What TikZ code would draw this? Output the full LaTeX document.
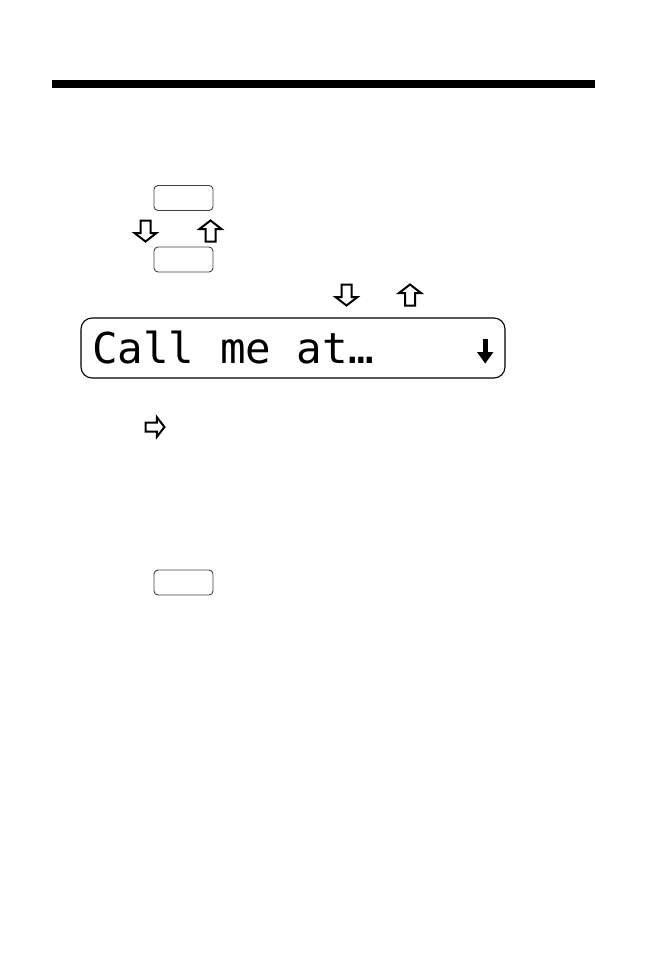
\documentclass[tikz,border=0pt]{standalone}
\usepackage{fontspec}
\usepackage{tikz}
\usepackage{xcolor}
\newfontfamily\lcdfont{DejaVu Sans Mono}

\tikzset{
  keybox/.style={draw=black!75,line width=0.9pt,rounded corners=4pt,minimum width=59pt,minimum height=25pt,inner sep=0pt},
  hollowarrow/.pic={\draw[line width=2pt,line join=miter] (-5,-10.5)--(5,-10.5)--(5,2)--(11,2)--(0,10.5)--(-11,2)--(-5,2)--cycle;}
}

\begin{document}
\begin{tikzpicture}[x=1pt,y=-1pt]
  \useasboundingbox (0,0) rectangle (645,954);
  \fill (52,80) rectangle (595,88);
  % keys
  \node[keybox] (keyA) at (183.5,198) {};
  \node[keybox] (keyB) at (183.5,259.5) {};
  \node[keybox] (keyC) at (183.5,582.5) {};
  % arrows
  \pic at (145.5,231) {hollowarrow};
  \pic[rotate=180] at (210.5,231) {hollowarrow};
  \pic at (346.5,295) {hollowarrow};
  \pic[rotate=180] at (410,295) {hollowarrow};
  \pic[rotate=90,scale=0.9] at (155,427) {hollowarrow};
  % display
  \node[draw,line width=1.1pt,rounded corners=11pt,minimum width=424pt,minimum height=60pt] (lcd) at (293,348) {};
  \node[anchor=base west,inner sep=0pt,font=\lcdfont\fontsize{42.5}{42}\selectfont] (msg) at (92,363) {Call me at…};
  \fill (482.5,339) rectangle (488,353);
  \fill (477,352)--(493.5,352)--(485.2,363.5)--cycle;
\end{tikzpicture}
\end{document}
